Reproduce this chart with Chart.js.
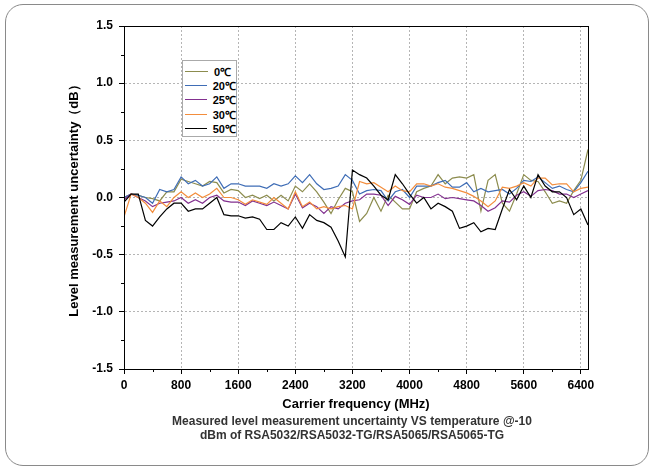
<!DOCTYPE html>
<html>
<head>
<meta charset="utf-8">
<script src="https://cdn.jsdelivr.net/npm/chart.js@4/dist/chart.umd.min.js"></script>
<style>
	body { margin: 0; background: #fff; font-family: "Liberation Sans", Arial, sans-serif; }
	#wrap { position: relative; width: 656px; height: 472px; }
	#frame { position: absolute; left: 5px; top: 4px; width: 644px; height: 462px; border: 1px solid #8a8a8a; border-radius: 18px; box-sizing: border-box; }
	#myChart { position: absolute; left: 0; top: 0; }
	#legend { position: absolute; left: 182px; top: 60px; width: 55px; height: 77px; border: 1px solid #aaa; box-sizing: border-box; background: #fff; padding-top: 3px; }
	.row { height: 14.3px; display: flex; align-items: center; font: bold 11px "Liberation Sans", Arial, sans-serif; }
	.row span.ln { display: inline-block; width: 23px; height: 0; border-top: 1.3px solid; margin: 0 6px 0 2px; }
	#caption { position: absolute; left: 90px; width: 524px; top: 414px; text-align: center; font: bold 12px/14px "Liberation Sans", Arial, sans-serif; color: #333; }
</style>
</head>
<body>
<div id="wrap">
	<div id="frame"></div>
	<canvas id="myChart" width="656" height="472"></canvas>
	<div id="legend"></div>
	<div id="caption">Measured level measurement uncertainty VS temperature @-10<br>dBm of RSA5032/RSA5032-TG/RSA5065/RSA5065-TG</div>
</div>
<script>
/* globals Chart:false */
// carrier frequency, MHz
const freqs = [
	0, 100, 200, 300, 400, 500, 600, 700, 800, 900,
	1000, 1100, 1200, 1300, 1400, 1500, 1600, 1700, 1800, 1900,
	2000, 2100, 2200, 2300, 2400, 2500, 2600, 2700, 2800, 2900,
	3000, 3100, 3200, 3300, 3400, 3500, 3600, 3700, 3800, 3900,
	4000, 4100, 4200, 4300, 4400, 4500, 4600, 4700, 4800, 4900,
	5000, 5100, 5200, 5300, 5400, 5500, 5600, 5700, 5800, 5900,
	6000, 6100, 6200, 6300, 6400, 6500,
];

// uncertainty (dB) per temperature
const t0 = [
	0, 0.03, 0.02, 0, -0.01, -0.03, 0.05, 0.05, 0.16, 0.14,
	0.12, 0.1, 0.14, 0.13, 0.04, 0.07, 0.06, 0, 0.02, -0.01,
	0.02, -0.03, 0.02, -0.03, 0.1, 0.05, 0.12, 0.05, -0.04, -0.14,
	-0.02, 0.08, 0.05, -0.21, -0.14, 0, -0.12, 0.02, -0.04, -0.1,
	-0.1, 0.05, 0.08, 0.1, 0.2, 0.12, 0.17, 0.18, 0.17, 0.2,
	-0.12, 0.15, 0.2, -0.05, -0.12, 0.03, 0.2, 0.15, 0.14, 0.05,
	-0.05, -0.03, -0.05, 0.06, 0.15, 0.42,
];
const t20 = [
	0, 0.03, 0.02, 0, -0.05, 0.07, 0.05, 0.07, 0.18, 0.12,
	0.15, 0.1, 0.12, 0.18, 0.08, 0.12, 0.12, 0.1, 0.1, 0.1,
	0.08, 0.12, 0.1, 0.12, 0.19, 0.13, 0.2, 0.12, 0.07, 0.08,
	0.1, 0.2, 0.15, 0.03, 0.06, 0.07, 0.06, -0.03, 0.05, 0.07,
	0, 0.1, 0.1, 0.1, 0.13, 0.15, 0.09, 0.09, 0.13, 0.05,
	0.08, 0.05, 0.06, 0.07, 0.03, 0.08, 0.15, 0.14, 0.18, 0.13,
	0.08, 0.1, 0.07, 0.05, 0.13, 0.23,
];
const t25 = [
	-0.02, 0.03, 0, -0.03, -0.08, -0.05, -0.04, -0.03, 0, -0.05,
	-0.02, -0.05, 0, 0.02, -0.03, -0.04, -0.04, -0.07, -0.03, -0.05,
	-0.07, -0.04, -0.07, -0.1, 0.03, -0.09, -0.05, -0.08, -0.14, -0.08,
	-0.1, -0.05, -0.03, -0.02, 0.03, 0.03, 0.02, -0.07, 0.01, -0.02,
	-0.06, 0.02, 0, 0, 0.03, -0.01, 0, -0.01, -0.02, -0.03,
	-0.07, -0.12, -0.09, -0.03, -0.04, 0.02, 0.05, 0.01, 0.06, 0.07,
	0.06, 0.03, 0.03, 0, 0.03, 0.06,
];
const t30 = [
	-0.17, 0.03, 0, -0.05, -0.13, -0.03, -0.08, 0, 0.05, 0,
	0.04, 0, 0.03, 0.08, 0, 0, -0.02, -0.06, -0.02, -0.04,
	-0.06, 0, -0.05, -0.1, 0.05, -0.08, -0.04, -0.1, -0.08, -0.1,
	-0.08, -0.07, -0.1, 0.14, 0.12, 0.13, 0.09, 0.05, 0.1, 0.06,
	0.05, 0.12, 0.12, 0.1, 0.12, 0.09, 0.08, 0.06, 0.04, 0.01,
	-0.03, -0.08, -0.03, 0.09, 0.08, 0.1, 0.13, 0.1, 0.17, 0.17,
	0.11, 0.12, 0.12, 0.05, 0.08, 0.09,
];
const t50 = [
	-0.04, 0.03, 0.03, -0.2, -0.25, -0.17, -0.1, -0.05, -0.05, -0.12,
	-0.1, -0.1, -0.05, 0, -0.15, -0.16, -0.16, -0.18, -0.17, -0.19,
	-0.28, -0.28, -0.22, -0.25, -0.17, -0.27, -0.15, -0.2, -0.22, -0.26,
	-0.38, -0.52, 0.24, 0.2, 0.17, 0.1, 0.02, -0.02, 0.2, 0.12,
	0.03, -0.05, 0, -0.1, -0.05, -0.08, -0.12, -0.27, -0.25, -0.22,
	-0.3, -0.27, -0.28, -0.1, 0.07, -0.02, 0.1, 0, 0.2, 0.1,
	0.05, 0.05, 0, -0.15, -0.1, -0.24,
];

const seriesNames = ["0℃", "20℃", "25℃", "30℃", "50℃"];
const seriesColors = ["#8c8c4e", "#3f6db6", "#82308f", "#f38d3c", "#000000"];
const xTicks = [0, 800, 1600, 2400, 3200, 4000, 4800, 5600, 6400];
const yTicks = [-1.5, -1.0, -0.5, 0, 0.5, 1.0, 1.5];

(() => {
	"use strict";

	const all = [t0, t20, t25, t30, t50];
	const datasets = all.map((vals, i) => ({
		label: seriesNames[i],
		data: freqs.map((f, j) => ({ x: f, y: vals[j] })),
		borderColor: seriesColors[i],
		backgroundColor: "transparent",
		borderWidth: 1.2,
		pointRadius: 0,
		lineTension: 0,
		order: 4 - i,
	}));

	// legend box
	const leg = document.getElementById("legend");
	seriesNames.forEach((n, i) => {
		const r = document.createElement("div");
		r.className = "row";
		r.innerHTML = '<span class="ln" style="border-color:' + seriesColors[i] + '"></span>' + n;
		leg.appendChild(r);
	});

	const tickFont = { family: "'Liberation Sans', Arial", size: 12, weight: "bold" };
	const titleFont = { family: "'Liberation Sans', Arial", size: 13, weight: "bold" };

	// box round plot + minor ticks
	const frameBox = {
		id: "frameBox",
		afterDraw(chart) {
			const { ctx, chartArea: a, scales } = chart;
			ctx.save();
			ctx.strokeStyle = "#000";
			ctx.lineWidth = 1;
			ctx.strokeRect(a.left + 0.5, a.top + 0.5, a.right - a.left, a.bottom - a.top);
			ctx.beginPath();
			for (let v = 400; v <= 6400; v += 800) {
				const px = Math.round(scales.x.getPixelForValue(v)) + 0.5;
				ctx.moveTo(px, a.bottom);
				ctx.lineTo(px, a.bottom + 3);
			}
			for (let v = -1.25; v <= 1.25; v += 0.5) {
				const py = Math.round(scales.y.getPixelForValue(v)) + 0.5;
				ctx.moveTo(a.left, py);
				ctx.lineTo(a.left - 3, py);
			}
			ctx.stroke();
			ctx.restore();
		},
	};

	const ctx = document.getElementById("myChart");
	// eslint-disable-next-line no-unused-vars
	const myChart = new Chart(ctx, {
		type: "line",
		data: { datasets },
		plugins: [frameBox],
		options: {
			responsive: false,
			animation: false,
			layout: { padding: { left: 0, top: 26, right: 68, bottom: 55 } },
			plugins: {
				legend: { display: false },
				tooltip: { enabled: false },
			},
			scales: {
				x: {
					type: "linear",
					min: 0,
					max: 6500,
					afterFit: (s) => { s.height = 48; },
					afterBuildTicks: (s) => { s.ticks = xTicks.map((v) => ({ value: v })); },
					ticks: { color: "#000", font: tickFont, padding: 4, maxRotation: 0, callback: (v) => String(v) },
					grid: {
						color: (c) => (c.tick && c.tick.value === 0 ? "transparent" : "#b5b5b5"),
						tickColor: "#000",
						tickLength: 5,
						tickBorderDash: [],
					},
					border: { color: "#000", width: 1, dash: [2, 2] },
					title: { display: true, text: "Carrier frequency (MHz)", color: "#000", font: titleFont, padding: { top: 0, bottom: 5 } },
				},
				y: {
					min: -1.5,
					max: 1.5,
					afterFit: (s) => { s.width = 124; },
					afterBuildTicks: (s) => { s.ticks = yTicks.map((v) => ({ value: v })); },
					ticks: { color: "#000", font: tickFont, padding: 6, callback: (v) => Number(v).toFixed(1) },
					grid: {
						color: (c) => (c.tick && Math.abs(c.tick.value) === 1.5 ? "transparent" : "#b5b5b5"),
						tickColor: "#000",
						tickLength: 5,
						tickBorderDash: [],
					},
					border: { color: "#000", width: 1, dash: [2, 2] },
					title: { display: true, text: "Level measurement uncertainty（dB）", color: "#000", font: titleFont, padding: { top: 67, bottom: 0 } },
				},
			},
		},
	});
})();
</script>
</body>
</html>
